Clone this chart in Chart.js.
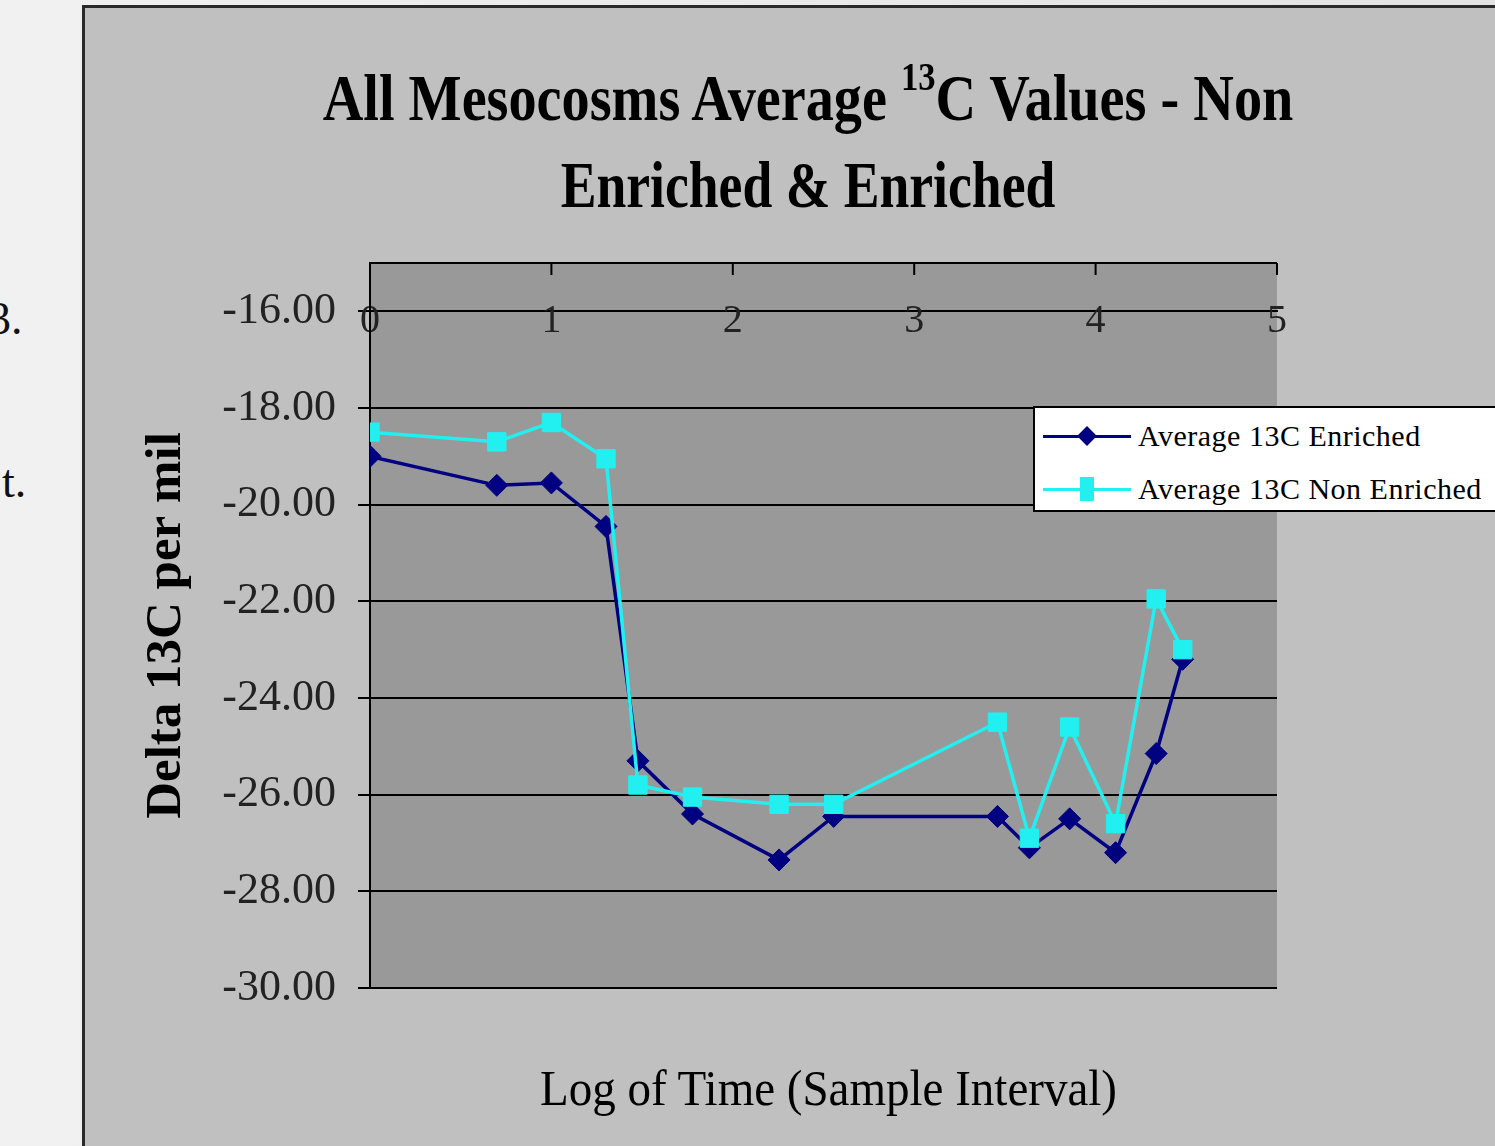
<!DOCTYPE html>
<html>
<head>
<meta charset="utf-8">
<title>All Mesocosms Average 13C Values</title>
<script src="https://cdn.jsdelivr.net/npm/chart.js@4.4.0/dist/chart.umd.min.js"></script>
<style>
  html, body { margin: 0; padding: 0; }
  body {
    width: 1495px; height: 1146px; overflow: hidden; position: relative;
    background: linear-gradient(to right, #f1f1f1, #e3e3e3);
    font-family: "Liberation Serif", "DejaVu Serif", serif;
  }
  .slideText { position: absolute; font-size: 46px; color: #111; white-space: nowrap; }
  #frame {
    position: absolute; left: 82px; top: 5px; width: 1420px; height: 1150px;
    background: #c0c0c0; border-left: 3px solid #2a2a2a; border-top: 3px solid #2a2a2a;
  }
  #chart { position: absolute; left: 85px; top: 8px; }
  .tline {
    position: absolute; left: 108px; width: 1400px;
    text-align: center; font-size: 65px; font-weight: bold; line-height: 87px;
    color: #000; transform-origin: center; white-space: nowrap;
  }
  .tline .sup { position: relative; top: -30px; font-size: 40px; line-height: 0; }
  #xTitle {
    position: absolute; left: 522px; top: 1058px; width: 600px; text-align: center;
    font-size: 50px; line-height: 60px; color: #000; white-space: nowrap;
    transform: scaleX(0.94); transform-origin: center;
  }
  #legend {
    position: absolute; left: 1033px; top: 406px; width: 480px; height: 106px;
    background: #fff; border: 2px solid #000; box-sizing: border-box;
  }
  .entry { position: absolute; left: 8px; height: 40px; width: 470px; }
  .entry .ln { position: absolute; left: 0; top: 19px; width: 88px; height: 3px; }
  .entry .mk { position: absolute; }
  .entry .tx {
    position: absolute; left: 95px; top: 0; font-size: 30px; line-height: 40px;
    letter-spacing: 0.5px; color: #000; white-space: nowrap;
  }
</style>
</head>
<body>
<div class="slideText" style="left:-12px; top:292px;">3.</div>
<div class="slideText" style="left:2px; top:455px;">t.</div>
<div id="frame"></div>
<canvas id="chart" width="1410" height="1138"></canvas>
<div class="tline" style="top:55px; transform:scaleX(0.865);">All Mesocosms Average <span class="sup">13</span>C Values - Non</div>
<div class="tline" style="top:142px; transform:scaleX(0.825);">Enriched &amp; Enriched</div>
<div id="xTitle">Log of Time (Sample Interval)</div>
<div id="legend">
  <div class="entry" style="top:8px;">
    <div class="ln" style="background:#000080;"></div>
    <div class="mk" style="left:37px; top:13px; width:14px; height:14px; background:#000080; transform:rotate(45deg);"></div>
    <div class="tx">Average 13C Enriched</div>
  </div>
  <div class="entry" style="top:61px;">
    <div class="ln" style="background:#22f0f0;"></div>
    <div class="mk" style="left:37px; top:8px; width:14px; height:24px; background:#22f0f0;"></div>
    <div class="tx">Average 13C Non Enriched</div>
  </div>
</div>
<script>
// log of time for each sample
const logTime = [0, 0.699, 1, 1.301, 1.477, 1.778, 2.255, 2.556, 3.459, 3.635, 3.857, 4.11, 4.334, 4.48];
// average delta 13C values (per mil)
const enriched = [-19.0, -19.6, -19.55, -20.45, -25.3, -26.4, -27.35, -26.45, -26.45, -27.1, -26.5, -27.2, -25.15, -23.2];
const nonEnriched = [-18.5, -18.7, -18.3, -19.05, -25.8, -26.05, -26.2, -26.2, -24.5, -26.9, -24.6, -26.6, -21.95, -23.0];
// axis ticks
const xTicks = [0, 1, 2, 3, 4, 5];
const yTicks = [-30, -28, -26, -24, -22, -20, -18, -16];

// gray plot area, black top border and small tick marks along the top
const plotBg = {
    id: 'plotBg',
    beforeDraw(chart) {
        const { ctx, chartArea: a } = chart;
        ctx.save();
        ctx.fillStyle = '#999999';
        ctx.fillRect(a.left, a.top, a.right - a.left, a.bottom - a.top);
        ctx.restore();
    },
    beforeDatasetsDraw(chart) {
        const { ctx, chartArea: a, scales } = chart;
        ctx.save();
        ctx.strokeStyle = '#000';
        ctx.lineWidth = 2;
        ctx.beginPath();
        ctx.moveTo(a.left, a.top);
        ctx.lineTo(a.right, a.top);
        xTicks.forEach(v => {
            const px = scales.x.getPixelForValue(v);
            ctx.moveTo(px, a.top);
            ctx.lineTo(px, a.top + 12);
        });
        ctx.stroke();
        ctx.restore();
    }
};

const ctx = document.getElementById('chart').getContext('2d');
new Chart(ctx, {
    type: 'line',
    data: {
        datasets: [{
            label: 'Average 13C Enriched',
            data: logTime.map((x, i) => ({ x: x, y: enriched[i] })),
            borderColor: '#000080',
            backgroundColor: '#000080',
            borderWidth: 3.5,
            pointStyle: 'rectRot',
            pointRadius: 11,
            pointBorderWidth: 1,
            tension: 0,
            order: 1
        }, {
            label: 'Average 13C Non Enriched',
            data: logTime.map((x, i) => ({ x: x, y: nonEnriched[i] })),
            borderColor: '#22f0f0',
            backgroundColor: '#22f0f0',
            borderWidth: 3.5,
            pointStyle: 'rect',
            pointRadius: 13,
            pointBorderWidth: 1,
            tension: 0,
            order: 0
        }]
    },
    options: {
        responsive: false,
        animation: false,
        devicePixelRatio: 1,
        layout: { padding: { left: 51, top: 255, right: 218, bottom: 158 } },
        plugins: {
            legend: { display: false },
            title: { display: false },
            tooltip: { enabled: false }
        },
        scales: {
            x: {
                type: 'linear',
                min: 0,
                max: 5,
                position: { y: -16 },
                afterBuildTicks: s => { s.ticks = xTicks.map(v => ({ value: v })); },
                grid: { display: true, drawOnChartArea: false, drawTicks: false, color: '#000' },
                border: { display: true, color: '#000', width: 2 },
                ticks: {
                    padding: -14,
                    color: '#222',
                    font: { family: 'Liberation Serif', size: 40 },
                    callback: v => v
                }
            },
            y: {
                min: -30,
                max: -15,
                position: 'left',
                afterBuildTicks: s => { s.ticks = yTicks.map(v => ({ value: v })); },
                afterFit: s => { s.width = 234; },
                grid: { color: '#000', lineWidth: 2, tickLength: 12 },
                border: { color: '#000', width: 2 },
                ticks: {
                    padding: 22,
                    color: '#222',
                    font: { family: 'Liberation Serif', size: 44 },
                    callback: v => v.toFixed(2)
                },
                title: {
                    display: true,
                    text: 'Delta 13C per mil',
                    color: '#000',
                    padding: 0,
                    font: { family: 'Liberation Serif', size: 51, weight: 'bold' }
                }
            }
        }
    },
    plugins: [plotBg]
});
</script>
</body>
</html>
